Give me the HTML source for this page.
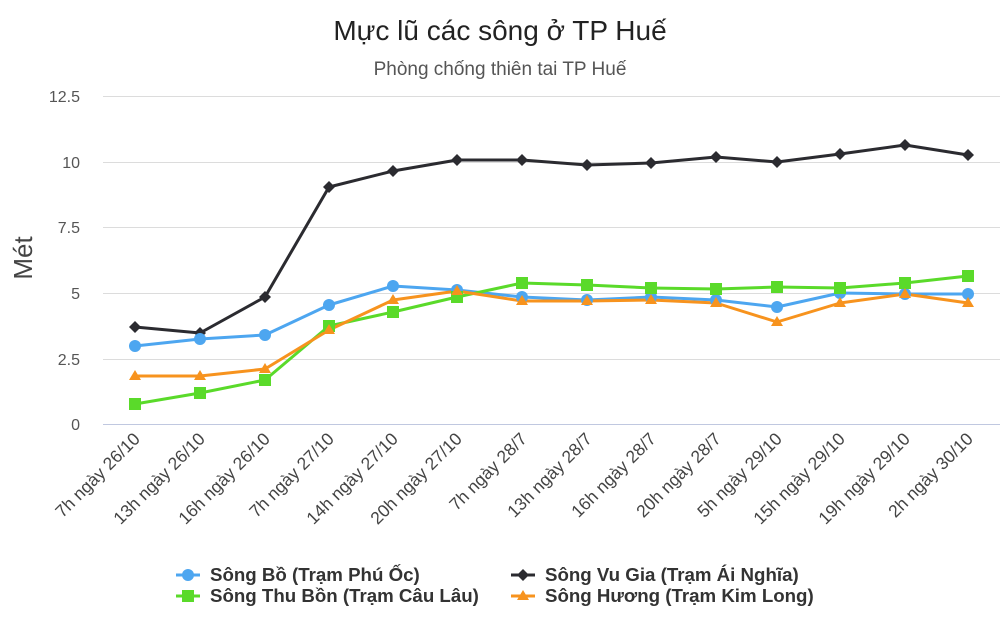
<!DOCTYPE html>
<html><head><meta charset="utf-8"><style>
body{margin:0;background:#fff;}
svg{display:block;font-family:"Liberation Sans",sans-serif;}
</style></head><body>
<svg width="1000" height="632" viewBox="0 0 1000 632" xmlns="http://www.w3.org/2000/svg">
<text x="500" y="40" text-anchor="middle" font-size="28" fill="#222">Mực lũ các sông ở TP Huế</text>
<text x="500" y="75" text-anchor="middle" font-size="19" fill="#555">Phòng chống thiên tai TP Huế</text>
<text transform="translate(32,258) rotate(-90)" text-anchor="middle" font-size="26" fill="#444">Mét</text>
<g stroke="#dcdcdc" stroke-width="1">
<line x1="103" x2="1000" y1="96.5" y2="96.5"/><line x1="103" x2="1000" y1="162.5" y2="162.5"/>
<line x1="103" x2="1000" y1="227.5" y2="227.5"/><line x1="103" x2="1000" y1="293.5" y2="293.5"/>
<line x1="103" x2="1000" y1="359.5" y2="359.5"/>
</g>
<line x1="103" x2="1000" y1="424.5" y2="424.5" stroke="#c0c8e0"/>
<g font-size="16" fill="#555" text-anchor="end">
<text x="80" y="102">12.5</text><text x="80" y="168">10</text><text x="80" y="233">7.5</text>
<text x="80" y="299">5</text><text x="80" y="365">2.5</text><text x="80" y="430">0</text>
</g>
<g font-size="17.5" fill="#444" text-anchor="end">
<text transform="translate(141,440) rotate(-45)">7h ngày 26/10</text>
<text transform="translate(206,440) rotate(-45)">13h ngày 26/10</text>
<text transform="translate(271,440) rotate(-45)">16h ngày 26/10</text>
<text transform="translate(335,440) rotate(-45)">7h ngày 27/10</text>
<text transform="translate(399,440) rotate(-45)">14h ngày 27/10</text>
<text transform="translate(463,440) rotate(-45)">20h ngày 27/10</text>
<text transform="translate(528,440) rotate(-45)">7h ngày 28/7</text>
<text transform="translate(593,440) rotate(-45)">13h ngày 28/7</text>
<text transform="translate(657,440) rotate(-45)">16h ngày 28/7</text>
<text transform="translate(722,440) rotate(-45)">20h ngày 28/7</text>
<text transform="translate(783,440) rotate(-45)">5h ngày 29/10</text>
<text transform="translate(846,440) rotate(-45)">15h ngày 29/10</text>
<text transform="translate(911,440) rotate(-45)">19h ngày 29/10</text>
<text transform="translate(974,440) rotate(-45)">2h ngày 30/10</text>
</g>
<g fill="none" stroke-width="3" stroke-linejoin="round">
<polyline stroke="#2b2b30" points="135,327 200,333 265,297 329,187 393,171 457,160 522,160 587,165 651,163 716,157 777,162 840,154 905,145 968,155"/>
<polyline stroke="#4da6f0" points="135,346 200,339 265,335 329,305 393,286 457,290 522,297 587,300 651,297 716,300 777,307 840,293 905,294 968,294"/>
<polyline stroke="#5ada2a" points="135,404 200,393 265,380 329,326 393,312 457,297 522,283 587,285 651,288 716,289 777,287 840,288 905,283 968,276"/>
<polyline stroke="#f7931e" points="135,376 200,376 265,369 329,330 393,300 457,291 522,301 587,301 651,300 716,303 777,322 840,303 905,294 968,303"/>
</g>
<g fill="#2b2b30">
<path d="M135,321l6,6-6,6-6-6z"/><path d="M200,327l6,6-6,6-6-6z"/><path d="M265,291l6,6-6,6-6-6z"/><path d="M329,181l6,6-6,6-6-6z"/><path d="M393,165l6,6-6,6-6-6z"/><path d="M457,154l6,6-6,6-6-6z"/><path d="M522,154l6,6-6,6-6-6z"/><path d="M587,159l6,6-6,6-6-6z"/><path d="M651,157l6,6-6,6-6-6z"/><path d="M716,151l6,6-6,6-6-6z"/><path d="M777,156l6,6-6,6-6-6z"/><path d="M840,148l6,6-6,6-6-6z"/><path d="M905,139l6,6-6,6-6-6z"/><path d="M968,149l6,6-6,6-6-6z"/>
</g>
<g fill="#4da6f0">
<circle cx="135" cy="346" r="6"/><circle cx="200" cy="339" r="6"/><circle cx="265" cy="335" r="6"/><circle cx="329" cy="305" r="6"/><circle cx="393" cy="286" r="6"/><circle cx="457" cy="290" r="6"/><circle cx="522" cy="297" r="6"/><circle cx="587" cy="300" r="6"/><circle cx="651" cy="297" r="6"/><circle cx="716" cy="300" r="6"/><circle cx="777" cy="307" r="6"/><circle cx="840" cy="293" r="6"/><circle cx="905" cy="294" r="6"/><circle cx="968" cy="294" r="6"/>
</g>
<g fill="#5ada2a">
<rect x="129" y="398" width="12" height="12"/><rect x="194" y="387" width="12" height="12"/><rect x="259" y="374" width="12" height="12"/><rect x="323" y="320" width="12" height="12"/><rect x="387" y="306" width="12" height="12"/><rect x="451" y="291" width="12" height="12"/><rect x="516" y="277" width="12" height="12"/><rect x="581" y="279" width="12" height="12"/><rect x="645" y="282" width="12" height="12"/><rect x="710" y="283" width="12" height="12"/><rect x="771" y="281" width="12" height="12"/><rect x="834" y="282" width="12" height="12"/><rect x="899" y="277" width="12" height="12"/><rect x="962" y="270" width="12" height="12"/>
</g>
<g fill="#f7931e">
<path d="M135,370l6,10h-12z"/><path d="M200,370l6,10h-12z"/><path d="M265,363l6,10h-12z"/><path d="M329,324l6,10h-12z"/><path d="M393,294l6,10h-12z"/><path d="M457,285l6,10h-12z"/><path d="M522,295l6,10h-12z"/><path d="M587,295l6,10h-12z"/><path d="M651,294l6,10h-12z"/><path d="M716,297l6,10h-12z"/><path d="M777,316l6,10h-12z"/><path d="M840,297l6,10h-12z"/><path d="M905,288l6,10h-12z"/><path d="M968,297l6,10h-12z"/>
</g>
<g font-size="18.7" font-weight="bold" fill="#333">
<line x1="176" x2="200" y1="575" y2="575" stroke="#4da6f0" stroke-width="3"/><circle cx="188" cy="575" r="6" fill="#4da6f0"/>
<text x="210" y="581">Sông Bồ (Trạm Phú Ốc)</text>
<line x1="511" x2="535" y1="575" y2="575" stroke="#2b2b30" stroke-width="3"/><path d="M523,569l6,6-6,6-6-6z" fill="#2b2b30"/>
<text x="545" y="581">Sông Vu Gia (Trạm Ái Nghĩa)</text>
<line x1="176" x2="200" y1="596" y2="596" stroke="#5ada2a" stroke-width="3"/><rect x="182" y="590" width="12" height="12" fill="#5ada2a"/>
<text x="210" y="602">Sông Thu Bồn (Trạm Câu Lâu)</text>
<line x1="511" x2="535" y1="596" y2="596" stroke="#f7931e" stroke-width="3"/><path d="M523,590l6,10h-12z" fill="#f7931e"/>
<text x="545" y="602">Sông Hương (Trạm Kim Long)</text>
</g>
</svg>
</body></html>
